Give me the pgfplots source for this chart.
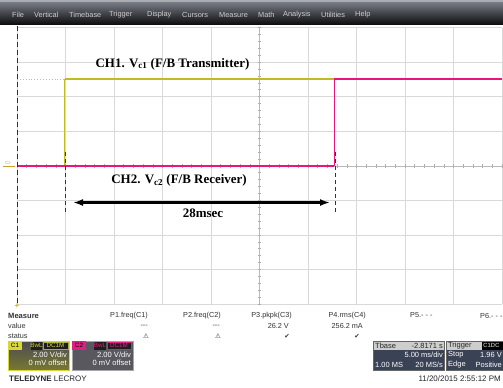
\documentclass[border=0pt]{standalone}
\usepackage{pgfplots}
\pgfplotsset{compat=1.18}
\usetikzlibrary{arrows.meta}
\usepackage{fontspec}
\setmainfont{Liberation Serif}
\newfontfamily\ui{Liberation Sans}
\newfontfamily\sym{DejaVu Sans}
\definecolor{chone}{RGB}{192,188,30}
\definecolor{chtwo}{RGB}{235,20,125}
\definecolor{menutxt}{RGB}{205,205,210}
\definecolor{menutop}{RGB}{130,133,145}
\definecolor{menubot}{RGB}{15,15,15}
\definecolor{menuedge}{RGB}{170,172,180}
\definecolor{boxbg}{RGB}{58,66,86}
\definecolor{rowbg}{RGB}{205,205,205}
\definecolor{tagyel}{RGB}{215,215,60}
\definecolor{tagpink}{RGB}{225,30,130}
\definecolor{cmark}{RGB}{200,160,40}
\definecolor{conetop}{RGB}{75,75,80}
\definecolor{conebot}{RGB}{120,120,50}
\definecolor{ctwobg}{RGB}{88,88,94}
\definecolor{tagdark}{RGB}{30,30,30}
\begin{document}
\begin{tikzpicture}[x=1bp,y=-1bp]
\path[use as bounding box] (0,0) rectangle (503,387);
\fill[white] (0,0) rectangle (503,387);
% menu bar
\shade[top color=menutop, bottom color=menubot] (0,0) rectangle (503,24);
\fill[menuedge] (0,0) rectangle (503,2);
\foreach \w/\x in {File/12,Vertical/34,Timebase/69,Trigger/109,Display/147,Cursors/182,Measure/219,Math/258,Analysis/283,Utilities/321,Help/355}
  \node[anchor=west, inner sep=0, text=menutxt, font=\ui\fontsize{7.4}{8}\selectfont] at (\x,15) {\w};

\begin{scope}[x=1cm, y=1cm]
\begin{axis}[
  at={(17bp,-304bp)}, anchor=south west, scale only axis,
  width=485bp, height=276.5bp,
  xmin=-25, xmax=25, ymin=-8, ymax=8,
  axis lines=middle, axis line style={-, draw=gray!55},
  xtick={-25,-20,...,25}, ytick={-8,-6,...,8},
  minor xtick={-25,-24,...,25}, minor ytick={-8,-7.6,...,8},
  xticklabels={}, yticklabels={},
  grid=major, grid style={draw=gray!30, line width=0.7bp},
  major tick length=0bp, minor tick length=3.5bp,
  tick align=center, minor tick style={gray!65, line width=0.5bp},
  clip=true,
]
\addplot[gray!55, dotted, line width=0.9bp] coordinates {(-25,5) (-20.1,5)};
\addplot[chone, line width=1.6bp] coordinates {(-25,0) (-20.1,0)};
\addplot[chone, line width=0.8bp] coordinates {(-20.1,0) (-20.1,5)};
\addplot[chone, line width=1.7bp] coordinates {(-20.1,5) (25,5)};
\addplot[chtwo, line width=1.8bp] coordinates {(-25,0) (7.7,0)};
\addplot[chtwo, line width=0.8bp] coordinates {(7.7,0) (7.7,5)};
\addplot[chtwo, line width=1.8bp] coordinates {(7.7,5) (25,5)};
\end{axis}
\end{scope}

% left dashed edge and channel marker
\draw[dash pattern=on 5bp off 3bp, gray!35!black, line width=0.6bp] (17,26) -- (17,304);
\node[inner sep=0, text=cmark, font=\ui\fontsize{4}{4}\selectfont] at (8,163) {C2};
\draw[cmark, line width=0.5bp] (3,166) -- (15,166);
\node[inner sep=0, text=chone, font=\ui\fontsize{8}{8}\selectfont\bfseries] at (17,306.5) {+};

% annotations
\draw[dash pattern=on 4bp off 3bp, black!80, line width=0.7bp] (65,152) -- (65,214);
\draw[dash pattern=on 4bp off 3bp, black!80, line width=0.7bp] (335,152) -- (335,214);
\draw[black, line width=2.2bp, {Latex[length=10bp,width=7bp]}-{Latex[length=10bp,width=7bp]}] (73,202.5) -- (330,202.5);
\node[inner sep=0, font=\fontsize{13}{13}\selectfont\bfseries] at (172.5,64) {CH1. V\textsubscript{c1} (F/B Transmitter)};
\node[inner sep=0, font=\fontsize{13}{13}\selectfont\bfseries] at (179,180) {CH2. V\textsubscript{c2} (F/B Receiver)};
\node[inner sep=0, font=\fontsize{13}{13}\selectfont\bfseries] at (203,213) {28msec};

% measurement table
\begin{scope}[every node/.style={inner sep=0, font=\ui\fontsize{7.3}{7.5}\selectfont, text=black!80}]
\node[anchor=west, font=\ui\fontsize{7.6}{7.6}\selectfont\bfseries] at (8,315.5) {Measure};
\node[anchor=west] at (8,326) {value};
\node[anchor=west] at (8,336) {status};
\node[anchor=east] at (148,315.5) {P1.freq(C1)};
\node[anchor=east] at (221,315.5) {P2.freq(C2)};
\node[anchor=east] at (292,315.5) {P3.pkpk(C3)};
\node[anchor=east] at (366,315.5) {P4.rms(C4)};
\node[anchor=west] at (410,315.5) {P5.- - -};
\node[anchor=west] at (480,315.5) {P6.- - -};
\node[anchor=east] at (148,326) {---};
\node[anchor=east] at (220,326) {---};
\node[anchor=east] at (289,326) {26.2 V};
\node[anchor=east] at (363,326) {256.2 mA};
\node[font=\sym\fontsize{6.5}{6.5}\selectfont] at (146,336) {⚠};
\node[font=\sym\fontsize{6.5}{6.5}\selectfont] at (218,336) {⚠};
\node[font=\sym\fontsize{6.5}{6.5}\selectfont] at (287,336.5) {✔};
\node[font=\sym\fontsize{6.5}{6.5}\selectfont] at (357,336.5) {✔};
\end{scope}

% channel boxes
\shade[top color=conetop, bottom color=conebot] (8,341) rectangle (69,370);
\draw[tagyel, line width=0.8bp] (8,341) rectangle (69,370);
\fill[tagyel] (8,341) rectangle (22,350);
\fill[tagdark] (31,342) rectangle (42,349.5);
\fill[tagdark] (43,342) rectangle (68,349.5);
\draw[tagyel!80!black, line width=0.4bp] (43,342) rectangle (68,349.5);
\fill[ctwobg] (72,341) rectangle (133,370);
\draw[gray!70, line width=0.6bp] (72,341) rectangle (133,370);
\fill[tagpink] (72,341) rectangle (86,350);
\fill[tagdark] (94,342) rectangle (106,349.5);
\fill[tagdark] (107,342) rectangle (131,349.5);
\draw[tagpink, line width=0.4bp] (107,342) rectangle (131,349.5);
\begin{scope}[every node/.style={inner sep=0, font=\ui\fontsize{6.3}{6.5}\selectfont}]
\node[text=black] at (15,345.5) {C1};
\node[text=tagyel] at (36.5,345.7) {BwL};
\node[text=tagyel] at (55.5,345.7) {DC1M};
\node[text=white, anchor=east, font=\ui\fontsize{7.6}{8}\selectfont] at (67,354.5) {2.00 V/div};
\node[text=white, anchor=east, font=\ui\fontsize{7.6}{8}\selectfont] at (67,363) {0 mV offset};
\node[text=black] at (79,345.5) {C2};
\node[text=tagpink] at (100,345.7) {BwL};
\node[text=tagpink] at (119,345.7) {DC1M};
\node[text=white, anchor=east, font=\ui\fontsize{7.6}{8}\selectfont] at (131,354.5) {2.00 V/div};
\node[text=white, anchor=east, font=\ui\fontsize{7.6}{8}\selectfont] at (131,363) {0 mV offset};
\end{scope}
\node[anchor=west, inner sep=0, text=black!85, font=\ui\fontsize{8}{8}\selectfont] at (9,378.5) {\textbf{TELEDYNE} LECROY};

% timebase and trigger boxes
\fill[rowbg] (373,341) rectangle (444,350);
\fill[boxbg] (373,350) rectangle (444,370);
\draw[gray!80!black, line width=0.5bp] (373,341) rectangle (444,370);
\fill[rowbg] (446,341) rectangle (503,350);
\fill[boxbg] (446,350) rectangle (503,370);
\draw[gray!80!black, line width=0.5bp] (446,341) rectangle (503,370);
\fill[black] (482,342) rectangle (503,349.5);
\begin{scope}[every node/.style={inner sep=0, font=\ui\fontsize{7.5}{7.5}\selectfont}]
\node[anchor=west, text=black!85] at (375,345.5) {Tbase};
\node[anchor=east, text=black!85] at (443,345.5) {-2.8171 s};
\node[anchor=east, text=white] at (443,355) {5.00 ms/div};
\node[anchor=west, text=white] at (375,364.5) {1.00 MS};
\node[anchor=east, text=white] at (443,364.5) {20 MS/s};
\node[anchor=west, text=black!85] at (448,345.5) {Trigger};
\node[anchor=west, text=gray!70, font=\ui\fontsize{6}{6}\selectfont\bfseries] at (483,345.7) {C1DC};
\node[anchor=west, text=white] at (448,355) {Stop};
\node[anchor=east, text=white] at (502,355) {1.96 V};
\node[anchor=west, text=white] at (448,364.5) {Edge};
\node[anchor=east, text=white] at (502,364.5) {Positive};
\node[anchor=east, text=black!85, font=\ui\fontsize{8}{8}\selectfont] at (501,378.5) {11/20/2015 2:55:12 PM};
\end{scope}
\end{tikzpicture}
\end{document}
